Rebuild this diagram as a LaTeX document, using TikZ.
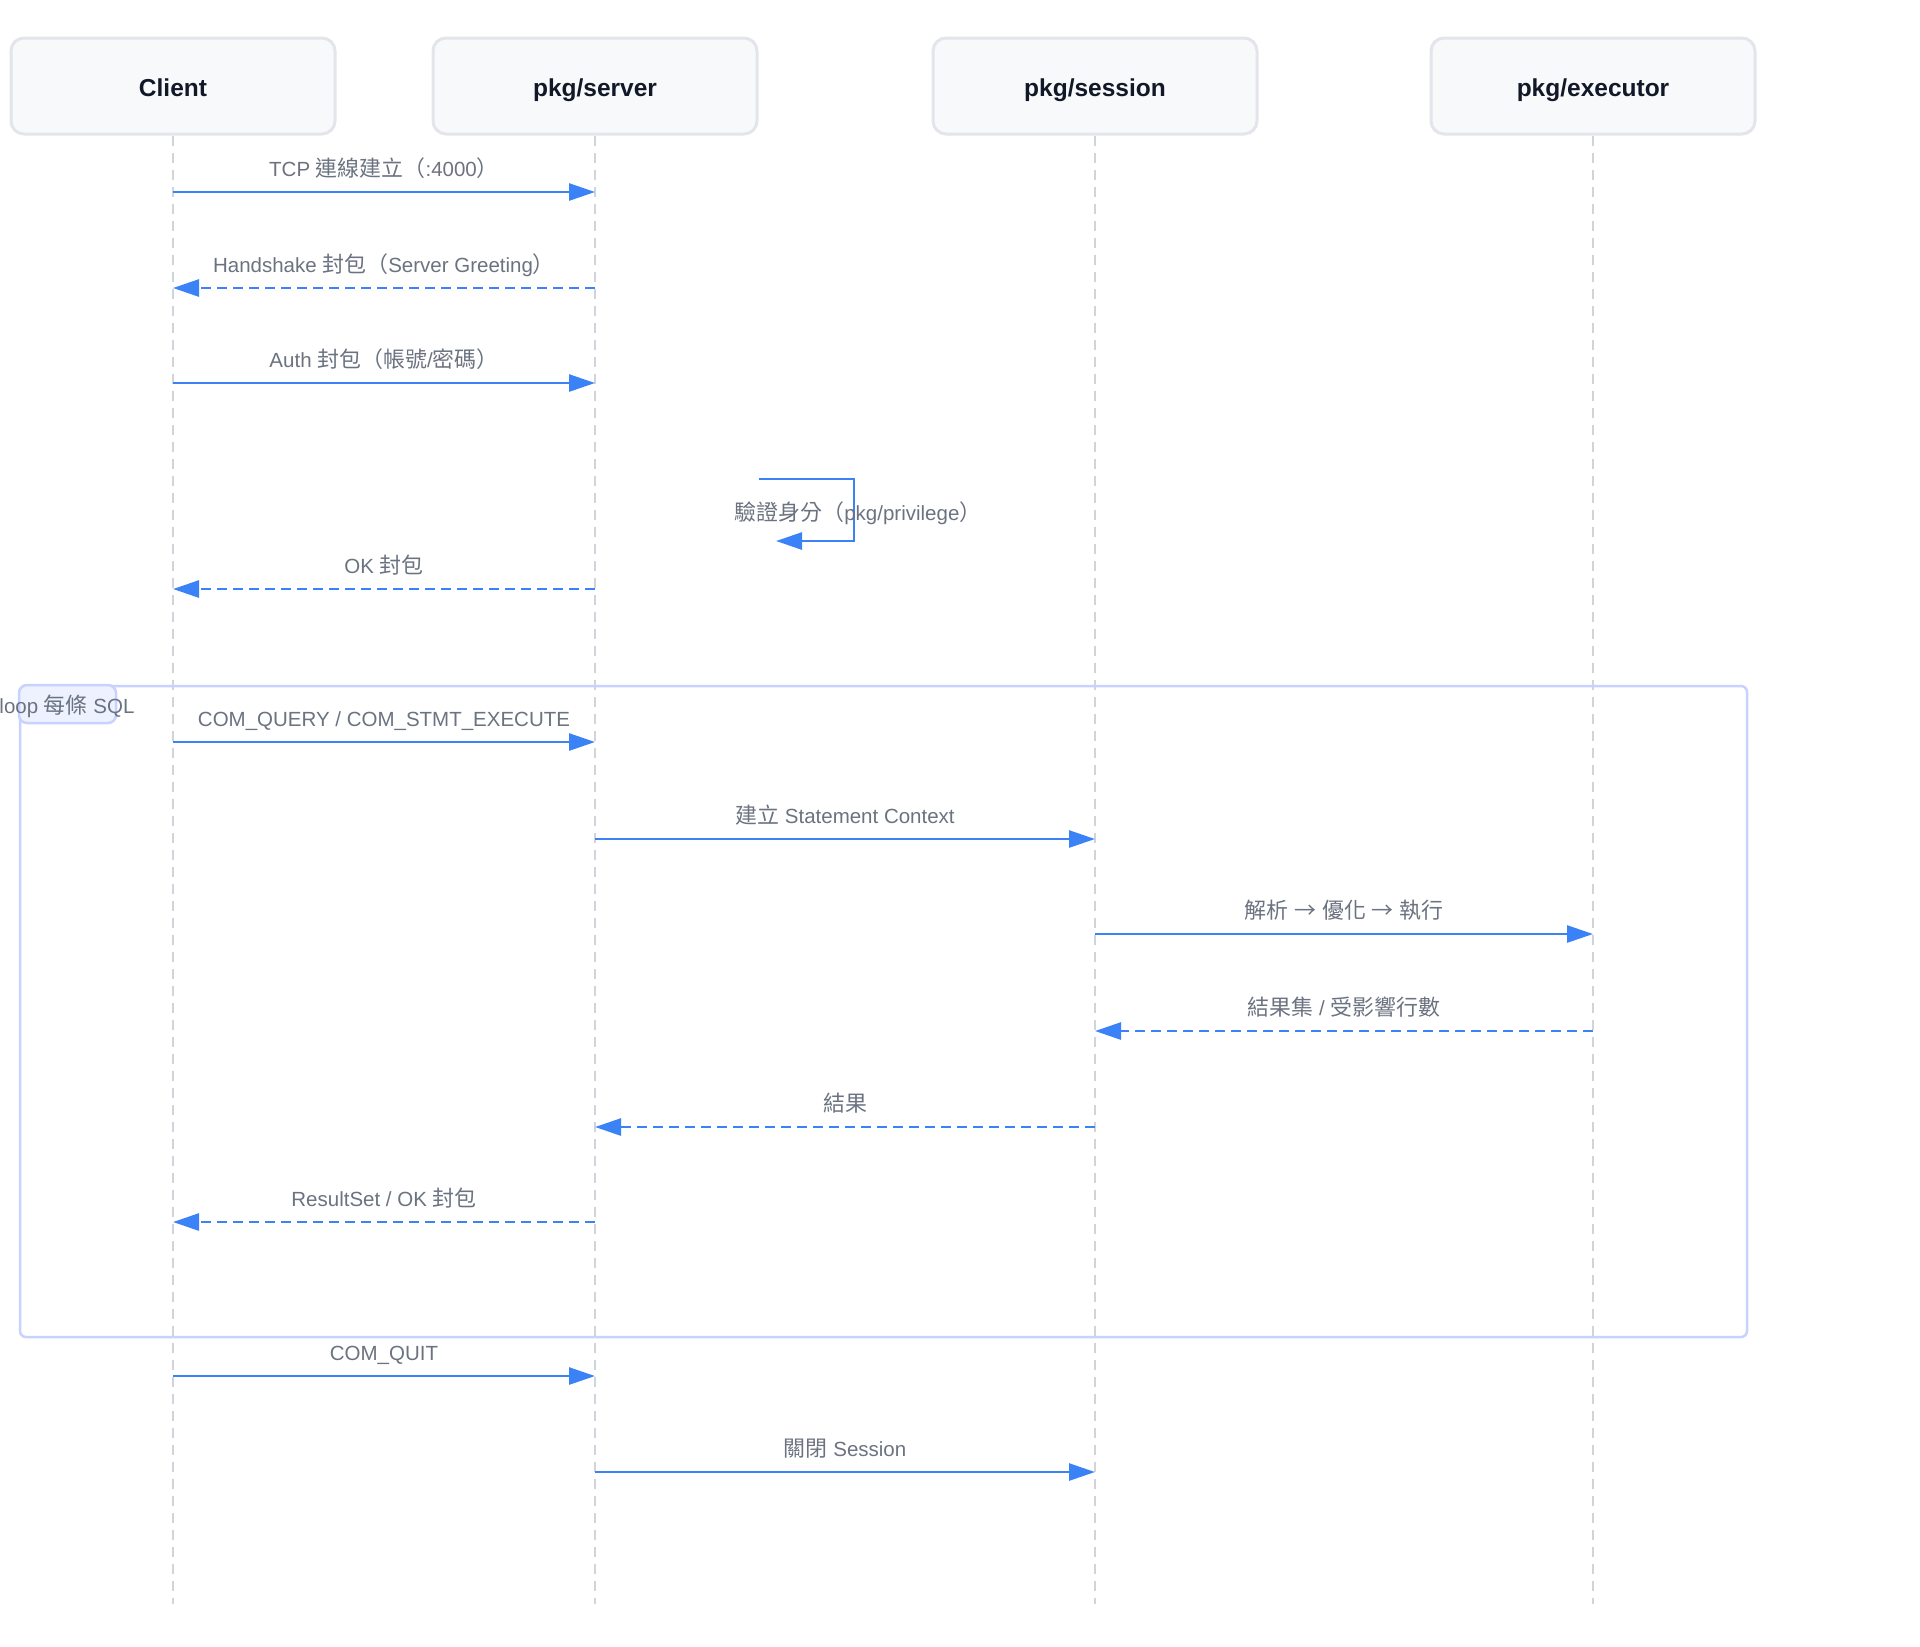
\documentclass[tikz,border=0pt]{standalone}
\usepackage{fontspec}
\setmainfont{Liberation Sans}
\newfontfamily\cjk[Scale=1.07]{Noto Sans CJK TC}
\newcommand{\zh}[1]{{\cjk #1}}
\usetikzlibrary{arrows.meta,positioning}

\definecolor{lineblue}{HTML}{3B82F6}
\definecolor{boxfill}{HTML}{F8F9FB}
\definecolor{boxline}{HTML}{E3E5EA}
\definecolor{headtext}{HTML}{111827}
\definecolor{labeltext}{HTML}{6B7280}
\definecolor{lifegray}{HTML}{D1D5DB}
\definecolor{loopline}{HTML}{C7D2FE}
\definecolor{loopfill}{HTML}{EEF2FF}

\begin{document}
\begin{tikzpicture}[
  x=0.5pt, y=-0.5pt,
  head/.style={draw=boxline, line width=1.5pt, fill=boxfill, rounded corners=6.5pt,
    minimum width=162pt, minimum height=48pt, text=headtext,
    text height=10pt, text depth=0pt,
    font=\fontsize{12.25pt}{14pt}\selectfont\bfseries},
  life/.style={draw=lifegray, line width=1pt, dash pattern=on 5pt off 3.5pt},
  msg/.style={draw=lineblue, line width=1.35pt, -{Triangle[length=13pt, width=8.5pt]}},
  reply/.style={msg, dash pattern=on 5pt off 3pt},
  txt/.style={font=\fontsize{10.25pt}{12pt}\selectfont, text=labeltext, inner sep=0pt},
  lbl/.style={txt, anchor=base, yshift=7.7pt},
  loopframe/.style={draw=loopline, line width=1.25pt, rounded corners=3pt},
  looptag/.style={draw=loopline, line width=1.25pt, fill=loopfill, rounded corners=4pt,
    minimum width=48.5pt, minimum height=19pt}
]
  \useasboundingbox (0,0) rectangle (1920,1646);

  % participants
  \node[head] (cl) at (173,86) {Client};
  \node[head, right=47.5pt of cl] (srv) {pkg/server};
  \node[head, right=86.5pt of srv] (ses) {pkg/session};
  \node[head, right=85.5pt of ses] (exe) {pkg/executor};

  \coordinate (bot) at (0,1604);
  \draw[life] (cl.south) -- (cl |- bot);
  \draw[life] (srv.south) -- (srv |- bot);
  \draw[life] (ses.south) -- (ses |- bot);
  \draw[life] (exe.south) -- (exe |- bot);

  % loop block
  \coordinate (lpa) at (20,686);
  \coordinate (lpb) at (1747,1337);
  \draw[loopframe] (lpa) rectangle (lpb);
  \node[looptag] (ltag) at (67.5,704) {};
  \node[txt, anchor=base] (ltxt) at (67,713) {loop \zh{每條} SQL};

  % message rows
  \coordinate (m1) at (0,192);
  \coordinate (m2) at (0,288);
  \coordinate (m3) at (0,383);
  \coordinate (m5) at (0,589);
  \coordinate (m7) at (0,742);
  \coordinate (m8) at (0,839);
  \coordinate (m9) at (0,934);
  \coordinate (m10) at (0,1031);
  \coordinate (m11) at (0,1127);
  \coordinate (m12) at (0,1222);
  \coordinate (m13) at (0,1376);
  \coordinate (m14) at (0,1472);

  \draw[msg] (cl |- m1) -- node[lbl] {TCP \zh{連線建立（}:4000\zh{）}} (srv |- m1);
  \draw[reply] (srv |- m2) -- node[lbl] {Handshake \zh{封包（}Server Greeting\zh{）}} (cl |- m2);
  \draw[msg] (cl |- m3) -- node[lbl] {Auth \zh{封包（帳號}/\zh{密碼）}} (srv |- m3);

  % self call
  \coordinate (s1) at (854,479);
  \coordinate (s2) at (776,541);
  \draw[msg] (srv.east |- s1) -- (s1) |- (s2);
  \node[txt, anchor=base] (chk) at (858,520) {\zh{驗證身分（}pkg/privilege\zh{）}};

  \draw[reply] (srv |- m5) -- node[lbl] {OK \zh{封包}} (cl |- m5);

  \draw[msg] (cl |- m7) -- node[lbl] {COM\_QUERY / COM\_STMT\_EXECUTE} (srv |- m7);
  \draw[msg] (srv |- m8) -- node[lbl] {\zh{建立} Statement Context} (ses |- m8);
  \draw[msg] (ses |- m9) -- node[lbl] {\zh{解析} \zh{→} \zh{優化} \zh{→} \zh{執行}} (exe |- m9);
  \draw[reply] (exe |- m10) -- node[lbl] {\zh{結果集} / \zh{受影響行數}} (ses |- m10);
  \draw[reply] (ses |- m11) -- node[lbl] {\zh{結果}} (srv |- m11);
  \draw[reply] (srv |- m12) -- node[lbl] {ResultSet / OK \zh{封包}} (cl |- m12);

  \draw[msg] (cl |- m13) -- node[lbl] {COM\_QUIT} (srv |- m13);
  \draw[msg] (srv |- m14) -- node[lbl] {\zh{關閉} Session} (ses |- m14);
\end{tikzpicture}
\end{document}
